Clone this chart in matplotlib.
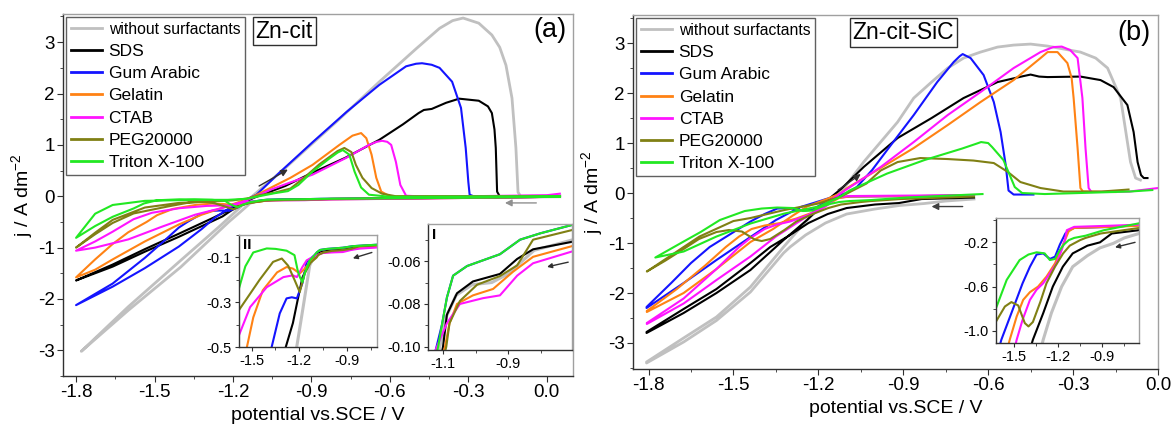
import numpy as np
import matplotlib.pyplot as plt
from matplotlib.ticker import MultipleLocator, FormatStrFormatter

plt.rcParams['font.family'] = ['Liberation Sans', 'DejaVu Sans']
plt.rcParams['axes.unicode_minus'] = False
plt.rcParams['mathtext.fontset'] = 'custom'
plt.rcParams['mathtext.rm'] = 'Liberation Sans'
plt.rcParams['mathtext.it'] = 'Liberation Sans:italic'

labels = ['without surfactants', 'SDS', 'Gum Arabic', 'Gelatin', 'CTAB', 'PEG20000', 'Triton X-100']
colors = ['#c0c0c0', '#000000', '#1414ff', '#ff8214', '#ff14ff', '#808014', '#22e822']

# ---- panel (a): Zn-cit, (E / V, j / A dm-2), cathodic sweep then anodic sweep
a_none_cat = [(0.05, -0.01), (-0.35, -0.03), (-0.70, -0.050), (-0.82, -0.055), (-0.90, -0.066), (-0.95, -0.070),
              (-1.01, -0.071), (-1.06, -0.076), (-1.09, -0.086), (-1.11, -0.10), (-1.134, -0.136), (-1.175, -0.32),
              (-1.216, -0.5), (-1.40, -1.38), (-1.60, -2.22), (-1.78, -3.02)]
a_none_an = [(-1.78, -3.02), (-1.60, -2.15), (-1.40, -1.25), (-1.25, -0.58), (-1.126, 0.0), (-1.0, 0.55), (-0.8, 1.47),
             (-0.64, 2.23), (-0.5, 2.87), (-0.41, 3.27), (-0.36, 3.42), (-0.32, 3.47), (-0.26, 3.37), (-0.21, 3.14),
             (-0.18, 2.9), (-0.156, 2.55), (-0.133, 1.91), (-0.118, 0.94), (-0.11, 0.08), (-0.10, 0.0), (0.05, 0.01)]

a_sds_cat = [(0.05, -0.01), (-0.35, -0.03), (-0.703, -0.051), (-0.823, -0.0545), (-0.872, -0.059), (-0.925, -0.066),
             (-1.008, -0.0695), (-1.057, -0.075), (-1.088, -0.085), (-1.10, -0.10), (-1.14, -0.13), (-1.18, -0.19),
             (-1.21, -0.29), (-1.24, -0.393), (-1.285, -0.5), (-1.407, -0.79), (-1.537, -1.08), (-1.66, -1.37),
             (-1.80, -1.64)]
a_sds_an = [(-1.80, -1.64), (-1.66, -1.33), (-1.537, -1.03), (-1.407, -0.73), (-1.28, -0.43), (-1.20, -0.23),
            (-1.12, -0.03), (-1.0, 0.2), (-0.9, 0.45), (-0.77, 0.75), (-0.64, 1.1), (-0.55, 1.4), (-0.49, 1.62),
            (-0.47, 1.68), (-0.44, 1.70), (-0.385, 1.82), (-0.335, 1.90), (-0.26, 1.86), (-0.225, 1.75),
            (-0.21, 1.62), (-0.2, 1.3), (-0.195, 0.94), (-0.19, 0.09), (-0.18, 0.0), (0.05, 0.0)]

a_gum_cat = [(0.05, -0.01), (-0.35, -0.03), (-0.70, -0.043), (-0.80, -0.047), (-0.863, -0.050), (-0.925, -0.0568),
             (-1.026, -0.0623), (-1.069, -0.0668), (-1.088, -0.077), (-1.103, -0.0895), (-1.12, -0.10),
             (-1.153, -0.12), (-1.18, -0.215), (-1.215, -0.283), (-1.247, -0.278), (-1.28, -0.283), (-1.323, -0.35),
             (-1.374, -0.5), (-1.407, -0.61), (-1.47, -0.90), (-1.537, -1.20), (-1.66, -1.70), (-1.80, -2.12)]
a_gum_an = [(-1.80, -2.12), (-1.66, -1.76), (-1.537, -1.40), (-1.407, -0.98), (-1.32, -0.64), (-1.27, -0.42),
            (-1.216, -0.24), (-1.16, -0.09), (-1.11, 0.03), (-1.02, 0.47), (-0.896, 1.05), (-0.766, 1.64),
            (-0.64, 2.17), (-0.538, 2.53), (-0.50, 2.58), (-0.477, 2.59), (-0.44, 2.56), (-0.41, 2.5),
            (-0.362, 2.23), (-0.328, 1.72), (-0.31, 0.94), (-0.30, 0.28), (-0.295, 0.03), (-0.28, 0.0), (0.05, 0.0)]

a_gel_cat = [(0.05, -0.01), (-0.35, -0.035), (-0.703, -0.053), (-0.823, -0.058), (-0.885, -0.065), (-0.946, -0.073),
             (-1.008, -0.076), (-1.057, -0.080), (-1.08, -0.089), (-1.094, -0.10), (-1.13, -0.12), (-1.165, -0.15),
             (-1.197, -0.172), (-1.24, -0.15), (-1.28, -0.143), (-1.34, -0.167), (-1.43, -0.247), (-1.49, -0.368),
             (-1.53, -0.5), (-1.60, -0.70), (-1.66, -0.93), (-1.727, -1.23), (-1.80, -1.58)]
a_gel_an = [(-1.80, -1.58), (-1.727, -1.43), (-1.66, -1.23), (-1.537, -0.88), (-1.407, -0.55), (-1.32, -0.36),
            (-1.243, -0.23), (-1.17, -0.10), (-1.12, 0.0), (-1.05, 0.18), (-0.98, 0.36), (-0.896, 0.61),
            (-0.793, 1.0), (-0.743, 1.18), (-0.71, 1.23), (-0.69, 1.13), (-0.67, 0.81), (-0.652, 0.36),
            (-0.633, 0.09), (-0.60, 0.0), (0.05, 0.0)]

a_ctab_cat = [(0.05, -0.01), (-0.35, -0.035), (-0.703, -0.0555), (-0.823, -0.061), (-0.872, -0.0668), (-0.925, -0.076),
              (-0.977, -0.0773), (-1.048, -0.080), (-1.088, -0.089), (-1.115, -0.0986), (-1.153, -0.113),
              (-1.18, -0.143), (-1.215, -0.188), (-1.24, -0.18), (-1.30, -0.188), (-1.405, -0.233), (-1.51, -0.322),
              (-1.58, -0.447), (-1.66, -0.69), (-1.727, -0.88), (-1.80, -1.06)]
a_ctab_an = [(-1.80, -1.06), (-1.727, -1.00), (-1.60, -0.84), (-1.47, -0.59), (-1.345, -0.36), (-1.243, -0.23),
             (-1.17, -0.12), (-1.12, -0.02), (-1.05, 0.14), (-0.98, 0.27), (-0.896, 0.42), (-0.766, 0.75),
             (-0.68, 1.0), (-0.65, 1.06), (-0.63, 1.08), (-0.61, 1.06), (-0.595, 1.0), (-0.577, 0.67),
             (-0.56, 0.22), (-0.538, 0.01), (-0.45, -0.01), (0.0, 0.02), (0.05, 0.05)]

a_peg_cat = [(0.05, -0.01), (-0.35, -0.03), (-0.703, -0.0455), (-0.823, -0.050), (-0.872, -0.062), (-0.925, -0.067),
             (-0.995, -0.071), (-1.048, -0.0786), (-1.08, -0.089), (-1.09, -0.10), (-1.13, -0.125), (-1.165, -0.17),
             (-1.197, -0.255), (-1.23, -0.20), (-1.27, -0.137), (-1.31, -0.105), (-1.365, -0.12), (-1.45, -0.20),
             (-1.58, -0.335), (-1.66, -0.52), (-1.727, -0.74), (-1.80, -1.0)]
a_peg_an = [(-1.80, -1.0), (-1.727, -0.71), (-1.66, -0.46), (-1.537, -0.22), (-1.407, -0.13), (-1.28, -0.10),
            (-1.20, -0.08), (-1.14, -0.04), (-1.10, 0.02), (-1.04, 0.07), (-0.98, 0.15), (-0.93, 0.35),
            (-0.87, 0.62), (-0.80, 0.88), (-0.774, 0.94), (-0.747, 0.86), (-0.73, 0.61), (-0.705, 0.36),
            (-0.67, 0.16), (-0.63, 0.05), (-0.577, 0.0), (0.05, 0.0)]

a_tri_cat = [(0.05, -0.01), (-0.35, -0.03), (-0.70, -0.043), (-0.80, -0.047), (-0.863, -0.050), (-0.925, -0.0568),
             (-1.026, -0.0623), (-1.069, -0.0668), (-1.088, -0.077), (-1.103, -0.0895), (-1.115, -0.100),
             (-1.134, -0.113), (-1.165, -0.171), (-1.18, -0.21), (-1.195, -0.19), (-1.21, -0.158), (-1.23, -0.09),
             (-1.28, -0.07), (-1.35, -0.062), (-1.405, -0.06), (-1.49, -0.078), (-1.54, -0.14), (-1.58, -0.238),
             (-1.66, -0.40), (-1.727, -0.58), (-1.80, -0.81)]
a_tri_an = [(-1.80, -0.81), (-1.727, -0.34), (-1.66, -0.17), (-1.537, -0.09), (-1.345, -0.07), (-1.22, -0.07),
            (-1.15, -0.05), (-1.10, 0.0), (-1.04, 0.06), (-0.99, 0.10), (-0.95, 0.22), (-0.896, 0.48),
            (-0.83, 0.74), (-0.80, 0.85), (-0.78, 0.90), (-0.755, 0.81), (-0.735, 0.48), (-0.71, 0.17),
            (-0.68, 0.03), (-0.60, -0.01), (0.05, 0.0)]

# ---- panel (b): Zn-cit-SiC
b_none_cat = [(-0.65, -0.12), (-0.75, -0.16), (-0.826, -0.21), (-0.915, -0.25), (-1.0, -0.32), (-1.10, -0.42),
              (-1.175, -0.60), (-1.245, -0.84), (-1.30, -1.08), (-1.323, -1.2), (-1.44, -1.98), (-1.56, -2.55),
              (-1.676, -2.98), (-1.807, -3.40)]
b_none_an = [(-1.807, -3.38), (-1.676, -2.90), (-1.56, -2.48), (-1.44, -1.88), (-1.323, -1.08), (-1.24, -0.54),
             (-1.18, -0.22), (-1.12, 0.02), (-1.04, 0.62), (-0.98, 1.02), (-0.92, 1.42), (-0.863, 1.9),
             (-0.80, 2.22), (-0.743, 2.5), (-0.687, 2.7), (-0.627, 2.82), (-0.567, 2.92), (-0.51, 2.96),
             (-0.45, 2.98), (-0.39, 2.94), (-0.274, 2.82), (-0.22, 2.7), (-0.178, 2.5), (-0.132, 1.9),
             (-0.108, 1.02), (-0.097, 0.62), (-0.079, 0.3), (-0.062, 0.26)]

b_sds_cat = [(-0.65, -0.09), (-0.835, -0.12), (-0.915, -0.20), (-1.0, -0.23), (-1.10, -0.30), (-1.167, -0.42),
             (-1.235, -0.60), (-1.30, -0.84), (-1.37, -1.08), (-1.44, -1.40), (-1.56, -1.92), (-1.676, -2.32),
             (-1.807, -2.78)]
b_sds_an = [(-1.807, -2.80), (-1.676, -2.40), (-1.56, -2.00), (-1.44, -1.54), (-1.323, -0.94), (-1.24, -0.54),
            (-1.17, -0.15), (-1.12, 0.08), (-1.04, 0.52), (-0.92, 1.1), (-0.80, 1.5), (-0.687, 1.9), (-0.567, 2.22),
            (-0.475, 2.34), (-0.45, 2.37), (-0.42, 2.33), (-0.39, 2.32), (-0.274, 2.33), (-0.203, 2.26),
            (-0.157, 2.12), (-0.108, 1.76), (-0.086, 1.22), (-0.072, 0.62), (-0.06, 0.36), (-0.05, 0.30),
            (-0.037, 0.30)]

b_gum_cat = [(-0.65, -0.045), (-0.835, -0.06), (-1.09, -0.07), (-1.127, -0.09), (-1.15, -0.12), (-1.187, -0.22),
             (-1.22, -0.33), (-1.255, -0.35), (-1.30, -0.30), (-1.345, -0.31), (-1.39, -0.42), (-1.44, -0.57),
             (-1.516, -0.84), (-1.584, -1.08), (-1.65, -1.40), (-1.72, -1.80), (-1.807, -2.28)]
b_gum_an = [(-1.807, -2.30), (-1.676, -1.80), (-1.56, -1.34), (-1.44, -0.88), (-1.35, -0.54), (-1.263, -0.28),
            (-1.206, -0.18), (-1.15, -0.08), (-1.10, 0.0), (-1.064, 0.12), (-1.01, 0.46), (-0.957, 0.86),
            (-0.863, 1.56), (-0.78, 2.22), (-0.722, 2.62), (-0.70, 2.74), (-0.69, 2.78), (-0.662, 2.70),
            (-0.616, 2.36), (-0.58, 1.82), (-0.556, 1.22), (-0.538, 0.56), (-0.528, 0.05), (-0.51, -0.03),
            (-0.44, -0.03)]

b_gel_cat = [(-0.65, -0.05), (-0.85, -0.06), (-1.09, -0.07), (-1.127, -0.10), (-1.175, -0.25), (-1.22, -0.39),
             (-1.278, -0.51), (-1.335, -0.60), (-1.39, -0.65), (-1.436, -0.72), (-1.48, -0.87), (-1.527, -1.08),
             (-1.60, -1.45), (-1.70, -1.92), (-1.806, -2.36)]
b_gel_an = [(-1.806, -2.38), (-1.676, -2.00), (-1.56, -1.52), (-1.44, -0.98), (-1.36, -0.72), (-1.29, -0.45),
            (-1.24, -0.27), (-1.17, -0.12), (-1.12, 0.0), (-1.098, 0.1), (-0.98, 0.5), (-0.863, 0.9),
            (-0.743, 1.36), (-0.627, 1.82), (-0.51, 2.26), (-0.415, 2.7), (-0.39, 2.82), (-0.355, 2.82),
            (-0.32, 2.6), (-0.305, 2.3), (-0.298, 1.9), (-0.284, 0.9), (-0.274, 0.1), (-0.265, 0.03),
            (-0.15, 0.02)]

b_ctab_cat = [(-0.65, -0.04), (-0.85, -0.05), (-1.09, -0.06), (-1.14, -0.09), (-1.153, -0.18), (-1.175, -0.27),
              (-1.21, -0.39), (-1.255, -0.48), (-1.30, -0.57), (-1.346, -0.63), (-1.39, -0.72), (-1.44, -0.90),
              (-1.48, -1.08), (-1.56, -1.52), (-1.676, -2.11), (-1.806, -2.60)]
b_ctab_an = [(-1.806, -2.62), (-1.676, -2.21), (-1.56, -1.74), (-1.44, -1.27), (-1.35, -0.87), (-1.26, -0.54),
             (-1.20, -0.31), (-1.15, -0.12), (-1.12, 0.0), (-1.05, 0.26), (-0.98, 0.52), (-0.863, 1.02),
             (-0.743, 1.56), (-0.627, 2.02), (-0.51, 2.5), (-0.415, 2.82), (-0.37, 2.92), (-0.34, 2.93),
             (-0.31, 2.86), (-0.284, 2.7), (-0.267, 1.9), (-0.256, 0.9), (-0.245, 0.1), (-0.235, 0.02),
             (-0.10, 0.03), (0.0, 0.10)]

b_peg_cat = [(-0.65, -0.07), (-0.91, -0.12), (-1.013, -0.16), (-1.05, -0.18), (-1.12, -0.23), (-1.165, -0.30),
             (-1.22, -0.42), (-1.278, -0.57), (-1.32, -0.74), (-1.37, -0.92), (-1.40, -0.96), (-1.425, -0.93),
             (-1.47, -0.77), (-1.516, -0.74), (-1.56, -0.78), (-1.622, -0.92), (-1.676, -1.12), (-1.74, -1.35),
             (-1.806, -1.57)]
b_peg_an = [(-1.806, -1.57), (-1.676, -1.08), (-1.62, -0.87), (-1.50, -0.56), (-1.44, -0.50), (-1.32, -0.34),
            (-1.20, -0.21), (-1.12, -0.07), (-1.03, 0.19), (-0.98, 0.45), (-0.92, 0.62), (-0.84, 0.70),
            (-0.743, 0.68), (-0.652, 0.65), (-0.58, 0.6), (-0.53, 0.42), (-0.486, 0.22), (-0.415, 0.1),
            (-0.334, 0.03), (-0.2, 0.03), (-0.104, 0.07)]

b_tri_cat = [(-0.62, -0.02), (-0.888, -0.09), (-1.013, -0.14), (-1.09, -0.16), (-1.127, -0.18), (-1.16, -0.22),
             (-1.187, -0.27), (-1.22, -0.35), (-1.255, -0.36), (-1.29, -0.30), (-1.345, -0.29), (-1.40, -0.31),
             (-1.46, -0.36), (-1.548, -0.54), (-1.616, -0.78), (-1.676, -0.97), (-1.776, -1.29)]
b_tri_an = [(-1.776, -1.29), (-1.676, -1.17), (-1.56, -0.87), (-1.44, -0.61), (-1.32, -0.41), (-1.20, -0.27),
            (-1.13, -0.10), (-1.09, 0.05), (-0.957, 0.39), (-0.825, 0.66), (-0.692, 0.89), (-0.64, 0.99),
            (-0.625, 1.02), (-0.60, 1.0), (-0.586, 0.92), (-0.546, 0.66), (-0.506, 0.12), (-0.48, 0.0),
            (-0.40, -0.02), (-0.1, 0.03), (-0.02, 0.06)]

# scan direction arrows (tail, head) in data units
a_arrows = [((-0.04, -0.13), (-0.16, -0.13), '#909090'), ((-1.10, 0.20), (-0.99, 0.52), '#303030')]
a2_arrow = ((-0.742, -0.078), (-0.862, -0.104))
a1_arrow = ((-0.715, -0.0605), (-0.78, -0.0627))
b_arrows = [((-0.69, -0.27), (-0.80, -0.27), '#404040'), ((-1.13, 0.06), (-1.05, 0.38), '#303030')]
b_in_arrow = ((-0.677, -0.20), (-0.813, -0.245))

main_xticks_a = [-1.8, -1.5, -1.2, -0.9, -0.6, -0.3, 0.0]
main_yticks = [-3, -2, -1, 0, 1, 2, 3]

curves_a = [(a_none_cat, a_none_an), (a_sds_cat, a_sds_an), (a_gum_cat, a_gum_an), (a_gel_cat, a_gel_an),
            (a_ctab_cat, a_ctab_an), (a_peg_cat, a_peg_an), (a_tri_cat, a_tri_an)]
curves_b = [(b_none_cat, b_none_an), (b_sds_cat, b_sds_an), (b_gum_cat, b_gum_an), (b_gel_cat, b_gel_an),
            (b_ctab_cat, b_ctab_an), (b_peg_cat, b_peg_an), (b_tri_cat, b_tri_an)]


def xy(points):
    arr = np.array(points)
    return arr[:, 0], arr[:, 1]


def style(ax, fs, mlen, nlen):
    for s in ['left', 'bottom']:
        ax.spines[s].set_color('#303030')
    for s in ['top', 'right']:
        ax.spines[s].set_color('#a0a0a0')
    for s in ax.spines.values():
        s.set_linewidth(1.0)
    ax.tick_params(which='both', direction='out', top=False, right=False, labelsize=fs, pad=2, color='#303030')
    ax.tick_params(which='major', length=mlen)
    ax.tick_params(which='minor', length=nlen)


def arrow(ax, tail, head, color, ms=10):
    ax.annotate('', xy=head, xytext=tail,
                arrowprops=dict(arrowstyle='-|>', color=color, lw=1.0, mutation_scale=ms, shrinkA=0, shrinkB=0))


fig = plt.figure(figsize=(11.75, 4.3), dpi=100)
axa = fig.add_axes([0.0536, 0.1256, 0.434, 0.842])
axb = fig.add_axes([0.5387, 0.1419, 0.4468, 0.823])

for ax, curves in [(axa, curves_a), (axb, curves_b)]:
    for (cat, an), lab, col in zip(curves, labels, colors):
        e, j = xy(cat + an)
        lw = 2.0 if col == '#c0c0c0' else 1.5
        ax.plot(e, j, color=col, lw=lw, label=lab, solid_joinstyle='round')
    ax.set_xticks(main_xticks_a)
    ax.set_yticks(main_yticks)
    ax.xaxis.set_major_formatter(FormatStrFormatter('%.1f'))
    ax.yaxis.set_major_formatter(FormatStrFormatter('%d'))
    ax.xaxis.set_minor_locator(MultipleLocator(0.15))
    ax.yaxis.set_minor_locator(MultipleLocator(0.5))
    style(ax, 13.5, 4, 2.5)
    ax.set_xlabel('potential vs.SCE / V', fontsize=14, labelpad=4)
    ax.set_ylabel('j / A dm$^{-2}$', fontsize=14, labelpad=2)
    leg = ax.legend(loc='upper left', bbox_to_anchor=(0.006, 0.992), borderaxespad=0, fontsize=12.5,
                    handlelength=1.75, handletextpad=0.4, labelspacing=0.4, borderpad=0.3,
                    fancybox=False, edgecolor='#606060', framealpha=1)
    leg.get_frame().set_linewidth(1.0)
    leg.get_texts()[0].set_fontsize(11.3)
    for h in leg.get_lines():
        h.set_linewidth(2.0)

axa.set_xlim(-1.85, 0.1)
axa.set_ylim(-3.5, 3.55)
axb.set_xlim(-1.855, 0.0)
axb.set_ylim(-3.52, 3.56)

box = dict(boxstyle='square,pad=0.12', fc='white', ec='#303030', lw=1.0)
axa.text(0.378, 0.984, 'Zn-cit', transform=axa.transAxes, fontsize=16.5, va='top', ha='left', bbox=box)
axb.text(0.418, 0.984, 'Zn-cit-SiC', transform=axb.transAxes, fontsize=16.5, va='top', ha='left', bbox=box)
axa.text(0.955, 0.955, '(a)', transform=axa.transAxes, fontsize=19.5, va='center', ha='center')
axb.text(0.955, 0.949, '(b)', transform=axb.transAxes, fontsize=19.5, va='center', ha='center')

for t, h, c in a_arrows:
    arrow(axa, t, h, c)
for t, h, c in b_arrows:
    arrow(axb, t, h, c)

# insets: cathodic sweep only
in2 = fig.add_axes([0.2034, 0.193, 0.1174, 0.2605])
in1 = fig.add_axes([0.3643, 0.186, 0.1226, 0.293])
inb = fig.add_axes([0.8477, 0.2023, 0.1217, 0.2907])

for ax, curves in [(in2, curves_a), (in1, curves_a), (inb, curves_b)]:
    for (cat, an), col in zip(curves, colors):
        e, j = xy(cat)
        lw = 2.2 if col == '#c0c0c0' else 1.5
        ax.plot(e, j, color=col, lw=lw)
    style(ax, 10.5, 3, 2)

in2.set_xlim(-1.58, -0.71)
in2.set_ylim(-0.5, 0.0)
in2.set_xticks([-1.5, -1.2, -0.9])
in2.set_yticks([-0.5, -0.3, -0.1])
in2.xaxis.set_minor_locator(MultipleLocator(0.15))
in2.yaxis.set_minor_locator(MultipleLocator(0.1))
in2.xaxis.set_major_formatter(FormatStrFormatter('%.1f'))
in2.yaxis.set_major_formatter(FormatStrFormatter('%.1f'))
in2.text(0.03, 0.97, 'II', transform=in2.transAxes, fontsize=11, fontweight='bold', va='top', ha='left')
arrow(in2, a2_arrow[0], a2_arrow[1], '#303030', ms=7)

in1.set_xlim(-1.146, -0.703)
in1.set_ylim(-0.1015, -0.0427)
in1.set_xticks([-1.1, -0.9])
in1.set_yticks([-0.10, -0.08, -0.06])
in1.xaxis.set_minor_locator(MultipleLocator(0.1))
in1.yaxis.set_minor_locator(MultipleLocator(0.01))
in1.xaxis.set_major_formatter(FormatStrFormatter('%.1f'))
in1.yaxis.set_major_formatter(FormatStrFormatter('%.2f'))
in1.text(0.03, 0.97, 'I', transform=in1.transAxes, fontsize=11, fontweight='bold', va='top', ha='left')
arrow(in1, a1_arrow[0], a1_arrow[1], '#303030', ms=7)

inb.set_xlim(-1.62, -0.65)
inb.set_ylim(-1.11, 0.02)
inb.set_xticks([-1.5, -1.2, -0.9])
inb.set_yticks([-1.0, -0.6, -0.2])
inb.xaxis.set_minor_locator(MultipleLocator(0.15))
inb.yaxis.set_minor_locator(MultipleLocator(0.2))
inb.xaxis.set_major_formatter(FormatStrFormatter('%.1f'))
inb.yaxis.set_major_formatter(FormatStrFormatter('%.1f'))
arrow(inb, b_in_arrow[0], b_in_arrow[1], '#303030', ms=7)

fig.savefig('out.png', dpi=100)
